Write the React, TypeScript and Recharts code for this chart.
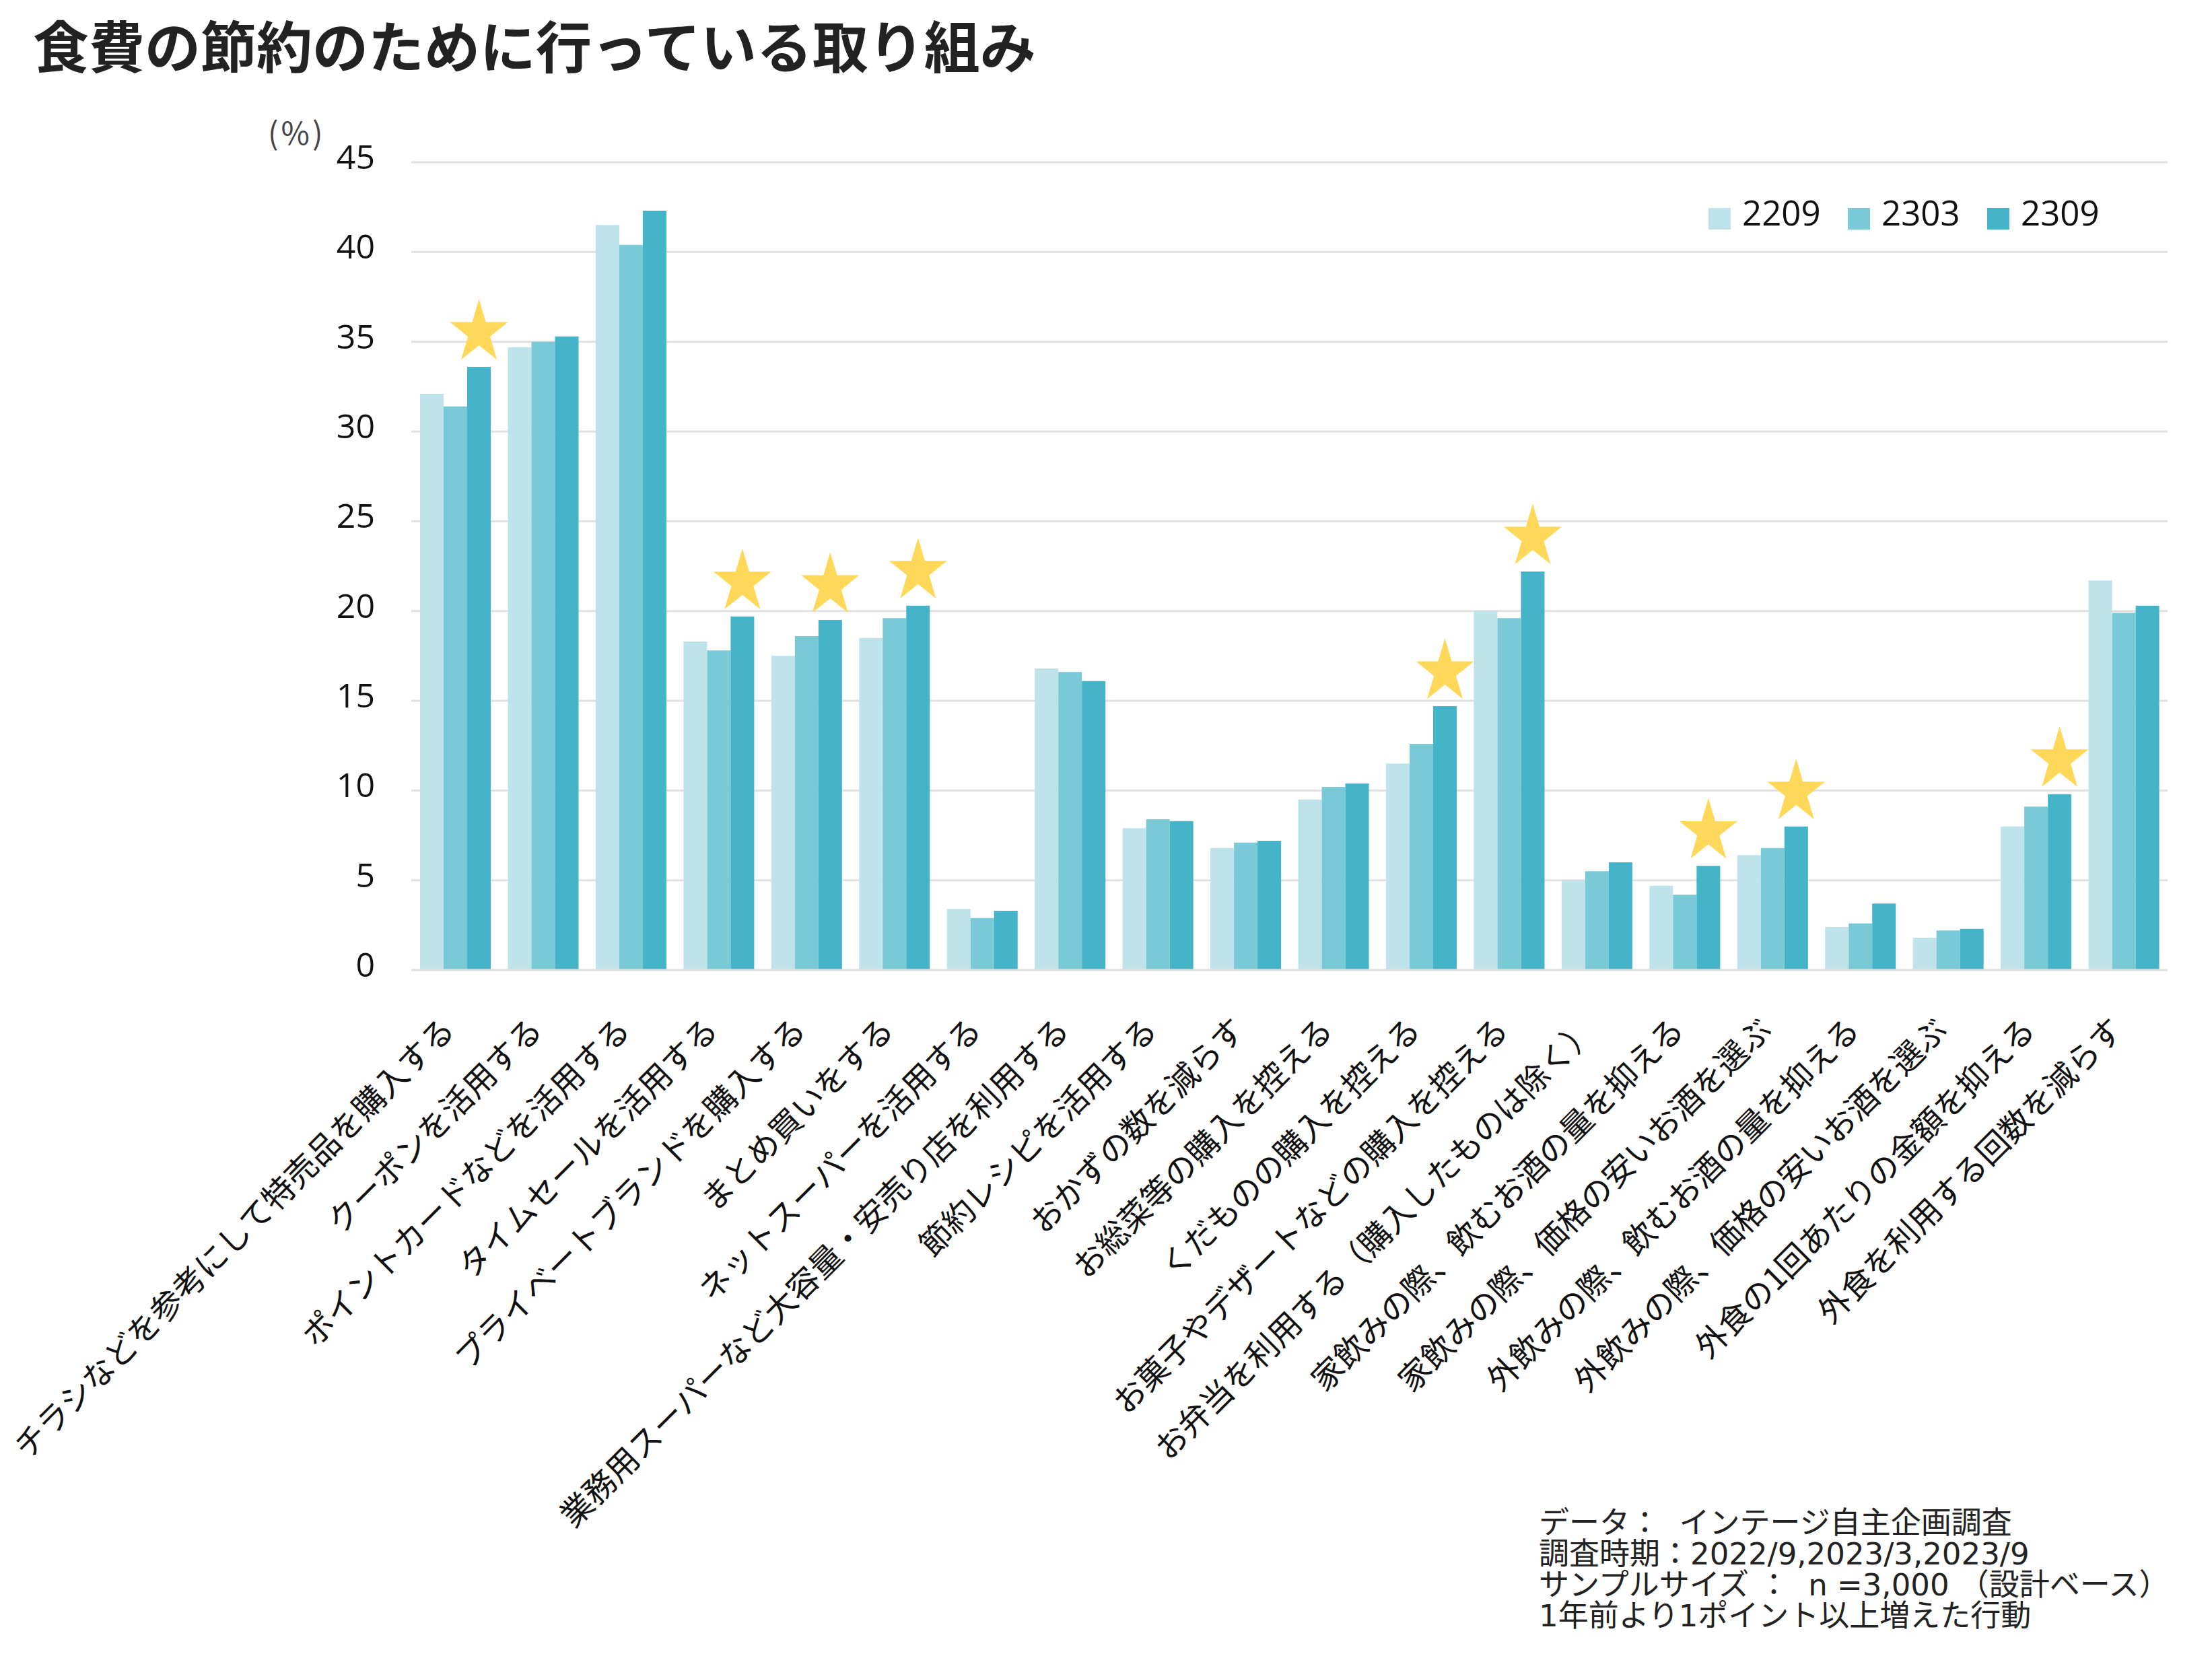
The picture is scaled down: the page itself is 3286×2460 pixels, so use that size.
import { BarChart, Bar, XAxis, YAxis, CartesianGrid, Legend, LabelList } from 'recharts'

const CATEGORIES = [
  'チラシなどを参考にして特売品を購入する',
  'クーポンを活用する',
  'ポイントカードなどを活用する',
  'タイムセールを活用する',
  'プライベートブランドを購入する',
  'まとめ買いをする',
  'ネットスーパーを活用する',
  '業務用スーパーなど大容量・安売り店を利用する',
  '節約レシピを活用する',
  'おかずの数を減らす',
  'お総菜等の購入を控える',
  'くだものの購入を控える',
  'お菓子やデザートなどの購入を控える',
  'お弁当を利用する（購入したものは除く）',
  '家飲みの際、飲むお酒の量を抑える',
  '家飲みの際、価格の安いお酒を選ぶ',
  '外飲みの際、飲むお酒の量を抑える',
  '外飲みの際、価格の安いお酒を選ぶ',
  '外食の1回あたりの金額を抑える',
  '外食を利用する回数を減らす',
]

const S2209 = [32.1, 34.7, 41.5, 18.3, 17.5, 18.5, 3.4, 16.8, 7.9, 6.8, 9.5, 11.5, 20.0, 5.0, 4.7, 6.4, 2.4, 1.8, 8.0, 21.7]
const S2303 = [31.4, 35.0, 40.4, 17.8, 18.6, 19.6, 2.9, 16.6, 8.4, 7.1, 10.2, 12.6, 19.6, 5.5, 4.2, 6.8, 2.6, 2.2, 9.1, 19.9]
const S2309 = [33.6, 35.3, 42.3, 19.7, 19.5, 20.3, 3.3, 16.1, 8.3, 7.2, 10.4, 14.7, 22.2, 6.0, 5.8, 8.0, 3.7, 2.3, 9.8, 20.3]

// 1 = marked with a star (up 1pt or more vs. a year earlier)
const STAR_FLAGS = [1, 0, 0, 1, 1, 1, 0, 0, 0, 0, 0, 1, 1, 0, 1, 1, 0, 0, 1, 0]

const Y_TICKS = [0, 5, 10, 15, 20, 25, 30, 35, 40, 45]

const FOOTNOTES = [
  'データ：  インテージ自主企画調査',
  '調査時期：2022/9,2023/3,2023/9',
  'サンプルサイズ ：  n =3,000 （設計ベース）',
  '1年前より1ポイント以上増えた行動',
]

const C2209 = '#BEE3EB'
const C2303 = '#79C9D7'
const C2309 = '#45B3C8'
const STAR_COLOR = '#FFD85A'
const GRID_COLOR = '#E1E1E1'
const TEXT_COLOR = '#111'
const FONT = '"Noto Sans CJK JP", "Noto Sans", sans-serif'
const NUM_FONT = '"Open Sans", "Noto Sans CJK JP", sans-serif'
const NOTE_FONT = '"DejaVu Sans", "Noto Sans CJK JP", sans-serif'

const W = 3286
const H = 2460
const PLOT_LEFT = 611
const PLOT_TOP = 241
const PLOT_RIGHT = 3220
const PLOT_BOTTOM = 1441
const Y_AXIS_W = 120
const X_AXIS_H = 60

const chartData = CATEGORIES.map((name, i) => ({
  name,
  v2209: S2209[i],
  v2303: S2303[i],
  v2309: S2309[i],
  star: STAR_FLAGS[i],
}))

// five-point star, slightly narrower than a regular one
function starPoints(cx: number, cy: number, r: number, sx: number) {
  const pts: string[] = []
  for (let k = 0; k < 10; k++) {
    const rad = k % 2 === 0 ? r : r * 0.382
    const a = -Math.PI / 2 + (k * Math.PI) / 5
    pts.push(`${(cx + sx * rad * Math.cos(a)).toFixed(1)},${(cy + rad * Math.sin(a)).toFixed(1)}`)
  }
  return pts.join(' ')
}

function StarMark(props: any) {
  const { x, y, width, value } = props
  if (!value) return null
  const cx = Number(x) + Number(width) / 2
  const cy = Number(y) - 51
  return <polygon points={starPoints(cx, cy, 49.7, 0.91)} fill={STAR_COLOR} />
}

function YTick(props: any) {
  const { x, y, payload } = props
  return (
    <text x={x} y={y} dy={10} textAnchor="end" fontSize={50} fill={TEXT_COLOR} fontFamily={NUM_FONT}>
      {payload?.value}
    </text>
  )
}

function XTick(props: any) {
  const { x, y, payload } = props
  return (
    <text
      transform={`translate(${x + 2},${y + 92}) rotate(-45)`}
      textAnchor="end" fontSize={47.5} fill={TEXT_COLOR} fontFamily={FONT}
    >
      {payload?.value}
    </text>
  )
}

function LegendBox(props: any) {
  const items = props.payload ?? []
  return (
    <div style={{ display: 'flex', fontFamily: NUM_FONT }}>
      {items.map((e: any) => (
        <div key={e.value} style={{ position: 'relative', width: 207, height: 56 }}>
          <div style={{ position: 'absolute', left: 0, top: 19, width: 33, height: 32, background: e.color }} />
          <span style={{ position: 'absolute', left: 50, top: 0, fontSize: 51, lineHeight: '51px', color: TEXT_COLOR, whiteSpace: 'nowrap' }}>
            {e.value}
          </span>
        </div>
      ))}
    </div>
  )
}

export default function App() {
  return (
    <div style={{ position: 'relative', width: W, height: H, background: '#fff', fontFamily: FONT, overflow: 'hidden' }}>
      <style>{'body{margin:0}'}</style>

      <div style={{ position: 'absolute', left: 0, top: 0 }}>
        <BarChart
          width={W} height={H} data={chartData}
          margin={{ top: PLOT_TOP, right: W - PLOT_RIGHT, left: PLOT_LEFT - Y_AXIS_W, bottom: H - PLOT_BOTTOM - X_AXIS_H }}
          barCategoryGap="10%" barGap={0}
        >
          <CartesianGrid vertical={false} stroke={GRID_COLOR} strokeWidth={3} />
          <XAxis
            dataKey="name" interval={0} height={X_AXIS_H}
            axisLine={{ stroke: GRID_COLOR, strokeWidth: 3 }} tickLine={false}
            tickSize={0} tickMargin={0} tick={<XTick />}
          />
          <YAxis
            domain={[0, 45]} ticks={Y_TICKS} interval={0} width={Y_AXIS_W}
            axisLine={false} tickLine={false} tickSize={0} tickMargin={54} tick={<YTick />}
          />
          <Legend
            layout="vertical" align="center" verticalAlign="middle"
            wrapperStyle={{ position: 'absolute', top: 290, left: 2538, width: 660, height: 56 }}
            content={<LegendBox />}
          />
          <Bar dataKey="v2209" name="2209" fill={C2209} isAnimationActive={false} />
          <Bar dataKey="v2303" name="2303" fill={C2303} isAnimationActive={false} />
          <Bar dataKey="v2309" name="2309" fill={C2309} isAnimationActive={false}>
            <LabelList dataKey="star" content={<StarMark />} />
          </Bar>
        </BarChart>
      </div>

      <div style={{ position: 'absolute', left: 49, top: 24, fontSize: 83, lineHeight: '82px', fontWeight: 700, color: '#222', whiteSpace: 'nowrap' }}>
        食費の節約のために行っている取り組み
      </div>

      <div style={{ position: 'absolute', left: 398, top: 170, fontSize: 46, lineHeight: '50px', letterSpacing: 4, color: '#444', whiteSpace: 'nowrap' }}>
        (%)
      </div>

      <div style={{ position: 'absolute', left: 2286, top: 2240, fontSize: 45, lineHeight: '46px', color: '#222', whiteSpace: 'pre', fontFamily: NOTE_FONT }}>
        {FOOTNOTES.join('\n')}
      </div>
    </div>
  )
}
